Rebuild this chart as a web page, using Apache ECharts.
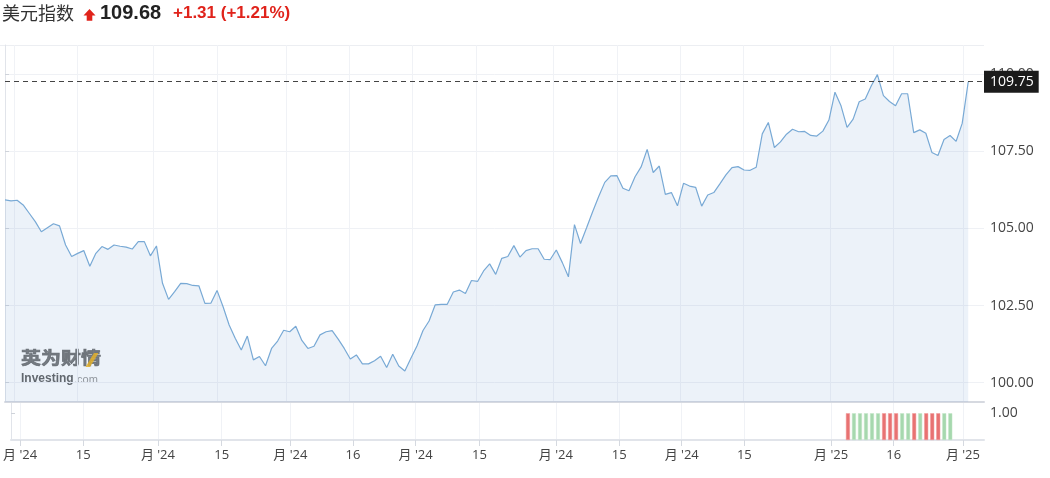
<!DOCTYPE html>
<html><head><meta charset="utf-8">
<script src="https://cdn.jsdelivr.net/npm/echarts@6/dist/echarts.min.js"></script>
<style>html,body{margin:0;padding:0;background:#fff}#c{width:1050px;height:478px}</style>
</head><body><div id="c"></div>
<script>
// ---- data ----
const titleName = '美元指数';
const titlePrice = '109.68';
const titleChange = '+1.31 (+1.21%)';

const priceValues = [
 105.92,105.89,105.91,105.76,105.49,105.22,104.89,105.02,105.15,105.08,
 104.46,104.09,104.19,104.28,103.77,104.19,104.41,104.32,104.46,104.42,
 104.39,104.33,104.57,104.57,104.11,104.43,103.22,102.70,102.95,103.22,
 103.21,103.15,103.14,102.57,102.58,102.99,102.46,101.87,101.44,101.06,
 101.51,100.74,100.85,100.55,101.11,101.35,101.70,101.65,101.83,101.37,
 101.11,101.18,101.55,101.65,101.69,101.41,101.11,100.77,100.90,100.61,
 100.61,100.71,100.86,100.49,100.92,100.54,100.38,100.79,101.19,101.69,
 102.00,102.52,102.54,102.54,102.94,103.00,102.89,103.31,103.28,103.62,
 103.85,103.51,104.03,104.09,104.44,104.07,104.28,104.34,104.34,104.00,
 103.99,104.30,103.89,103.43,105.12,104.51,105.02,105.54,106.03,106.49,
 106.70,106.71,106.30,106.22,106.67,106.99,107.56,106.81,107.02,106.10,
 106.16,105.73,106.46,106.37,106.33,105.72,106.08,106.16,106.44,106.73,
 106.97,107.00,106.89,106.88,106.98,108.06,108.43,107.62,107.80,108.05,
 108.21,108.13,108.14,108.01,107.99,108.15,108.51,109.41,108.97,108.27,
 108.54,109.10,109.19,109.62,109.98,109.30,109.11,108.97,109.36,109.36,
 108.10,108.19,108.08,107.46,107.36,107.88,108.01,107.82,108.40,109.75
];

const xTickValues = [1.5, 12, 24.4, 35, 46.4, 56.8, 67.2, 77.8, 90.5, 101, 111.4, 121.8, 136.2, 146.6, 158.1];
const xTickLabels = ["月 '24","15","月 '24","15","月 '24","16","月 '24","15","月 '24","15","月 '24","15","月 '25","16","月 '25"];
const yTickValues = [100, 102.5, 105, 107.5, 110];
const volTickValues = [1];

const volumeIndex  = [139,140,141,142,143,144,145,146,147,148,149,150,151,152,153,154,155,156];
const volumeValues = [1,1,1,1,1,1,1,1,1,1,1,1,1,1,1,1,1,1];
const volumeUp     = [0,1,1,1,1,1,0,0,0,1,1,0,1,0,0,0,1,1];

// ---- chart ----
const X_MAX = 161.6;
const FONT = '"Open Sans", "Noto Sans CJK SC", sans-serif';
const chart = echarts.init(document.getElementById('c'), null, {renderer: 'canvas'});
const lastValue = priceValues[priceValues.length - 1];
const labelFor = v => { const k = xTickValues.findIndex(t => Math.abs(t - v) < 1e-6); return k >= 0 ? xTickLabels[k] : ''; };

chart.setOption({
  animation: false,
  backgroundColor: '#fff',
  grid: [
    {left: 5, right: 66, top: 45, height: 357},
    {left: 5, right: 66, top: 402, height: 38}
  ],
  xAxis: [
    {type: 'value', gridIndex: 0, min: 0, max: X_MAX,
     axisLine: {show: true, lineStyle: {color: '#d6d9e0', width: 2}},
     axisTick: {show: false, customValues: xTickValues},
     axisLabel: {show: false, customValues: xTickValues},
     splitLine: {show: true, lineStyle: {color: '#f0f2f6', width: 1}}},
    {type: 'value', gridIndex: 1, min: 0, max: X_MAX,
     axisLine: {show: true, lineStyle: {color: '#e1e4ea', width: 2}},
     axisTick: {show: true, customValues: xTickValues, length: 6, lineStyle: {color: '#d5d9e0'}},
     axisLabel: {show: true, customValues: xTickValues, formatter: labelFor, color: '#444', fontSize: 13, margin: 9, fontFamily: FONT},
     splitLine: {show: true, lineStyle: {color: '#f0f2f6', width: 1}}}
  ],
  yAxis: [
    {type: 'value', gridIndex: 0, position: 'right', min: 99.375, max: 110.94, scale: true,
     axisLine: {show: true, lineStyle: {color: '#e1e4ea', width: 1}},
     axisTick: {show: true, customValues: yTickValues, length: 4, lineStyle: {color: '#cfd3da'}},
     axisLabel: {show: true, customValues: yTickValues, formatter: v => v.toFixed(2), color: '#444', fontSize: 14, margin: 6, fontFamily: FONT},
     splitLine: {show: true, lineStyle: {color: '#eff1f5', width: 1}}},
    {type: 'value', gridIndex: 1, position: 'right', min: 0, max: 1.42,
     axisLine: {show: true, lineStyle: {color: '#e1e4ea', width: 1}},
     axisTick: {show: true, customValues: volTickValues, length: 4, lineStyle: {color: '#cfd3da'}},
     axisLabel: {show: true, customValues: volTickValues, formatter: v => v.toFixed(2), color: '#444', fontSize: 14, margin: 6, fontFamily: FONT},
     splitLine: {show: false}}
  ],
  series: [
    {type: 'line', xAxisIndex: 0, yAxisIndex: 0,
     data: priceValues.map((v, i) => [i, v]),
     showSymbol: false, symbol: 'none',
     lineStyle: {color: '#78a9d5', width: 1.2},
     areaStyle: {color: 'rgba(100,150,205,0.175)'},
     markLine: {
       silent: true, symbol: 'none', animation: false,
       lineStyle: {color: '#444', type: [5, 4], width: 1},
       label: {show: true, position: 'end', distance: 0, formatter: () => lastValue.toFixed(2),
               backgroundColor: '#1b1b1b', color: '#fff', fontSize: 14, fontFamily: FONT,
               padding: [4, 5, 4, 6]},
       data: [{yAxis: lastValue}]
     }},
    {type: 'bar', xAxisIndex: 1, yAxisIndex: 1, barWidth: 4,
     data: volumeIndex.map((x, k) => ({value: [x, volumeValues[k]],
       itemStyle: {color: volumeUp[k] ? '#a6d8ae' : '#e87272', borderColor: volumeUp[k] ? '#c4e6c9' : '#f09a9a', borderWidth: 0.5}}))}
  ],
  graphic: [
    {type: 'line', shape: {x1: 0, y1: 45.5, x2: 984, y2: 45.5}, style: {stroke: '#eceef2', lineWidth: 1}, silent: true},
    {type: 'text', left: 2, top: 4, style: {text: titleName, fontSize: 18, fontFamily: '"Noto Sans CJK SC", sans-serif', fill: '#333'}},
    {type: 'polygon', shape: {points: [[89.5, 9], [95.5, 15.5], [92.3, 15.5], [92.3, 20.7], [86.7, 20.7], [86.7, 15.5], [83.5, 15.5]]}, style: {fill: '#e0231b'}},
    {type: 'text', left: 100, top: 3, style: {text: titlePrice, fontSize: 20, fontWeight: 'bold', fontFamily: '"Liberation Sans", Arial, sans-serif', fill: '#222'}},
    {type: 'text', left: 173, top: 5, style: {text: titleChange, fontSize: 17, fontWeight: 'bold', fontFamily: '"Liberation Sans", Arial, sans-serif', fill: '#e0231b'}},
    {type: 'text', x: 21, y: 349, scaleY: 0.85, style: {text: '英为财情', fontSize: 20, fontWeight: 'bold', fontFamily: '"Noto Sans CJK SC", sans-serif', fill: 'rgba(95,95,95,0.85)', stroke: 'rgba(95,95,95,0.85)', lineWidth: 0.8, verticalAlign: 'top'}},
    {type: 'polygon', shape: {points: [[94, 353], [98.5, 353], [90, 367], [85.5, 367]]}, style: {fill: 'rgba(245,180,20,0.85)'}},
    {type: 'text', left: 21, top: 373, style: {text: 'Investing', fontSize: 12, fontWeight: 'bold', fontFamily: '"Liberation Sans", Arial, sans-serif', fill: 'rgba(80,80,80,0.9)'}},
    {type: 'text', left: 74, top: 374.5, style: {text: '.com', fontSize: 11, fontFamily: '"Liberation Sans", Arial, sans-serif', fill: 'rgba(140,140,140,0.9)'}}
  ]
});
</script>
</body></html>
